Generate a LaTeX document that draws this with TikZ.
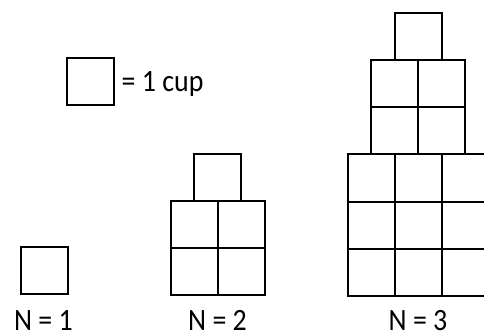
\documentclass[tikz,border=0pt]{standalone}
\usepackage{fontspec}
\setmainfont{Carlito}
\newcommand{\cuptext}[1]{\scalebox{0.9}[1]{#1}}
\begin{document}
\begin{tikzpicture}[x=1pt,y=-1pt,
  cupline/.style={line width=2pt, line join=miter},
  lbl/.style={font=\fontsize{31}{33}\selectfont, inner sep=0pt, anchor=base}]
\useasboundingbox (0,0) rectangle (484,331);
\clip (0,0) rectangle (484,331);
\def\s{47}
% legend
\draw[cupline] (67,58.5) rectangle ++(\s,\s);
\node[lbl, anchor=base west] (legend) at (121.5,92) {\cuptext{= 1 cup}};
% N = 1
\draw[cupline] (20.5,246.5) rectangle ++(\s,\s);
\node[lbl] (n1) at (43.5,330) {\cuptext{N = 1}};
% N = 2
\draw[cupline] (193.5,154) rectangle ++(\s,\s);
\foreach \i in {0,1} \foreach \j in {0,1}
  \draw[cupline] ({170.5+\i*\s},{201+\j*\s}) rectangle ++(\s,\s);
\node[lbl] (n2) at (217.5,330) {\cuptext{N = 2}};
% N = 3
\draw[cupline] (394.5,13.5) rectangle ++(\s,\s);
\foreach \i in {0,1} \foreach \j in {0,1}
  \draw[cupline] ({371+\i*\s},{60.5+\j*\s}) rectangle ++(\s,\s);
\foreach \i in {0,1,2} \foreach \j in {0,1,2}
  \draw[cupline] ({347.5+\i*\s},{154.5+\j*\s}) rectangle ++(\s,\s);
\node[lbl] (n3) at (418,330) {\cuptext{N = 3}};
\end{tikzpicture}
\end{document}
